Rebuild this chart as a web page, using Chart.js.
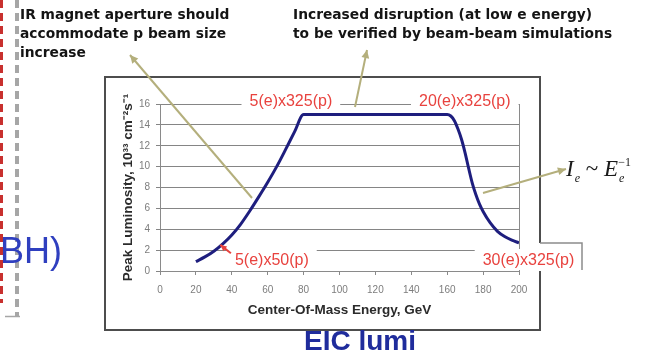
<!DOCTYPE html>
<html>
<head>
<meta charset="utf-8">
<script src="https://cdn.jsdelivr.net/npm/chart.js@4/dist/chart.umd.min.js"></script>
<style>
  html, body { margin: 0; padding: 0; background: #fff; }
  #wrap { position: relative; width: 654px; height: 355px; overflow: hidden; background: #fff; }
  #lumi { position: absolute; left: 0; top: 0; }
  .note { position: absolute; font-family: "DejaVu Sans", sans-serif; font-weight: bold; font-size: 13.8px;
          color: #141414; white-space: nowrap; line-height: 19px; }
  .side { position: absolute; left: -60px; width: 122px; top: 230px; text-align: right;
          font-family: "Liberation Sans", Arial, sans-serif; font-size: 36px; line-height: 42px; color: #2f3fbf; }
  .caption { position: absolute; left: 240px; width: 240px; top: 325px; text-align: center;
             font-family: "Liberation Sans", Arial, sans-serif; font-weight: bold; font-size: 28px;
             line-height: 32px; color: #1f2c9c; }
  .formula { position: absolute; left: 566px; top: 156px; font-family: "Liberation Serif", "Times New Roman", serif;
             font-size: 23px; line-height: 26px; color: #1a1a1a; white-space: nowrap; }
  .formula i { font-style: italic; }
  .formula .sub { font-size: 12px; font-style: italic; position: relative; top: 6px; margin-left: 1px; }
  .formula .sup { font-size: 12px; position: relative; top: -10px; margin-left: -6px; }
</style>
</head>
<body>
<div id="wrap">
  <canvas id="lumi" width="654" height="355"></canvas>
  <div class="note" style="left:20px; top:5px;">IR magnet aperture should<br>accommodate p beam size<br>increase</div>
  <div class="note" style="left:293px; top:5px;">Increased disruption (at low e energy)<br>to be verified by beam-beam simulations</div>
  <div class="side">BH)</div>
  <div class="caption">EIC lumi</div>
  <div class="formula"><i>I</i><span class="sub">e</span> ~ <i>E</i><span class="sub">e</span><span class="sup">&minus;1</span></div>
</div>
<script>
// Peak luminosity vs. centre-of-mass energy
const energy = [20, 25, 30, 35, 40, 45, 50, 55, 60, 65, 70, 75, 80, 120, 160, 162, 164, 166, 168, 170, 172, 174, 176, 178, 180, 184, 188, 192, 196, 200];
const lumi   = [0.9, 1.35, 1.9, 2.6, 3.45, 4.5, 5.75, 7.1, 8.5, 10.0, 11.65, 13.35, 15, 15, 15, 14.85, 14.4, 13.6, 12.6, 11.3, 9.8, 8.4, 7.3, 6.4, 5.7, 4.6, 3.8, 3.3, 2.95, 2.7];

const xTicks = [0, 20, 40, 60, 80, 100, 120, 140, 160, 180, 200];
const yTicks = [0, 2, 4, 6, 8, 10, 12, 14, 16];

// beam configurations (electron GeV x proton GeV)
const configLabels = ['5(e)x325(p)', '20(e)x325(p)', '5(e)x50(p)', '30(e)x325(p)'];

// where each configuration label sits, in axis units
const labelAnchors = [[72.9, 16.3], [169.8, 16.3], [62.3, 1.1], [205.3, 1.1]];

function arrow(ctx, x1, y1, x2, y2, color, head) {
  ctx.save();
  ctx.strokeStyle = color; ctx.fillStyle = color; ctx.lineWidth = 2;
  ctx.beginPath(); ctx.moveTo(x1, y1); ctx.lineTo(x2, y2); ctx.stroke();
  const a = Math.atan2(y2 - y1, x2 - x1);
  ctx.beginPath();
  ctx.moveTo(x2, y2);
  ctx.lineTo(x2 - head * Math.cos(a - 0.45), y2 - head * Math.sin(a - 0.45));
  ctx.lineTo(x2 - head * Math.cos(a + 0.45), y2 - head * Math.sin(a + 0.45));
  ctx.closePath(); ctx.fill();
  ctx.restore();
}

const decorations = {
  id: 'decorations',
  beforeDraw(chart) {
    const ctx = chart.ctx;
    ctx.save(); ctx.fillStyle = '#fff'; ctx.fillRect(0, 0, chart.width, chart.height); ctx.restore();
  },
  beforeDatasetsDraw(chart) {
    // plot area right border
    const { ctx, chartArea: a } = chart;
    ctx.save();
    ctx.strokeStyle = '#8a8a8a'; ctx.lineWidth = 1;
    ctx.beginPath(); ctx.moveTo(Math.round(a.right) + 0.5, a.top); ctx.lineTo(Math.round(a.right) + 0.5, a.bottom); ctx.stroke();
    ctx.restore();
  },
  afterDatasetsDraw(chart) {
    const { ctx, scales: { x, y } } = chart;
    ctx.save();
    ctx.font = '16px "Liberation Sans", Arial, sans-serif';
    ctx.textAlign = 'center'; ctx.textBaseline = 'middle';
    configLabels.forEach((t, i) => {
      const px = x.getPixelForValue(labelAnchors[i][0]);
      const py = y.getPixelForValue(labelAnchors[i][1]);
      const w = ctx.measureText(t).width;
      ctx.fillStyle = '#fff';
      ctx.fillRect(px - w / 2 - 8, py - 10.5, w + 16, 21);
      ctx.fillStyle = '#e8423e';
      ctx.fillText(t, px, py + 1);
    });
    ctx.restore();
    // small pointer from the 5(e)x50(p) label to the curve
    arrow(ctx, x.getPixelForValue(39.5), y.getPixelForValue(1.7), x.getPixelForValue(33.6), y.getPixelForValue(2.5), '#e8423e', 7);
  },
  afterDraw(chart) {
    const ctx = chart.ctx;
    ctx.save();
    // chart frame
    ctx.strokeStyle = '#4d4d4d'; ctx.lineWidth = 2;
    ctx.beginPath();
    ctx.moveTo(540, 243); ctx.lineTo(540, 77); ctx.lineTo(105, 77); ctx.lineTo(105, 330); ctx.lineTo(540, 330); ctx.lineTo(540, 271);
    ctx.stroke();
    ctx.strokeStyle = '#8c8c8c'; ctx.lineWidth = 1.5;
    ctx.beginPath(); ctx.moveTo(540, 243); ctx.lineTo(582, 243); ctx.lineTo(582, 270); ctx.stroke();
    // slide dividers at the left edge
    ctx.lineWidth = 3; ctx.strokeStyle = '#c8302e'; ctx.setLineDash([8, 5]);
    ctx.beginPath(); ctx.moveTo(1.5, 0); ctx.lineTo(1.5, 303); ctx.stroke();
    ctx.lineWidth = 4; ctx.strokeStyle = '#a6a6a6'; ctx.setLineDash([8, 5]);
    ctx.beginPath(); ctx.moveTo(17, 0); ctx.lineTo(17, 316); ctx.stroke();
    ctx.setLineDash([]); ctx.lineWidth = 1.5;
    ctx.beginPath(); ctx.moveTo(5, 316.5); ctx.lineTo(20, 316.5); ctx.stroke();
    ctx.restore();
    // callout arrows
    const olive = '#b4af7c';
    arrow(ctx, 252, 198, 130, 55, olive, 9);
    arrow(ctx, 355, 107, 367, 50, olive, 9);
    arrow(ctx, 483, 193, 566, 169, olive, 9);
  }
};

new Chart(document.getElementById('lumi'), {
  type: 'scatter',
  data: {
    datasets: [{
      data: energy.map((e, i) => ({ x: e, y: lumi[i] })),
      showLine: true,
      borderColor: '#1e1e7e',
      borderWidth: 3,
      pointRadius: 0,
      cubicInterpolationMode: 'monotone',
      fill: false
    }]
  },
  options: {
    responsive: false,
    animation: false,
    events: [],
    layout: { padding: { left: 118, right: 135, top: 104, bottom: 35 } },
    plugins: { legend: { display: false }, tooltip: { enabled: false } },
    scales: {
      x: {
        type: 'linear', min: 0, max: 200,
        afterBuildTicks(s) { s.ticks = xTicks.map(v => ({ value: v })); },
        afterFit(s) { s.height = 49; },
        ticks: { color: '#7d7d7d', font: { family: '"Liberation Sans", Arial, sans-serif', size: 10 }, padding: 9, maxRotation: 0 },
        grid: { drawOnChartArea: false, drawTicks: true, tickLength: 4, color: '#8a8a8a' },
        border: { display: true, color: '#8a8a8a', width: 1 },
        title: { display: true, text: 'Center-Of-Mass Energy, GeV', color: '#2b2b2b',
                 font: { family: '"Liberation Sans", Arial, sans-serif', size: 13.5, weight: 'bold' },
                 padding: { top: 0, bottom: 2 } }
      },
      y: {
        type: 'linear', min: 0, max: 16,
        afterBuildTicks(s) { s.ticks = yTicks.map(v => ({ value: v })); },
        afterFit(s) { s.width = 42; },
        ticks: { color: '#7d7d7d', font: { family: '"Liberation Sans", Arial, sans-serif', size: 10 }, padding: 6 },
        grid: { color: '#858585', lineWidth: 1, tickLength: 4 },
        border: { display: true, color: '#8a8a8a', width: 1 },
        title: { display: true, text: 'Peak Luminosity, 10³³ cm⁻²s⁻¹', color: '#2b2b2b',
                 font: { family: '"Liberation Sans", Arial, sans-serif', size: 13.5, weight: 'bold' },
                 padding: { top: 2, bottom: 0 } }
      }
    }
  },
  plugins: [decorations]
});
</script>
</body>
</html>
